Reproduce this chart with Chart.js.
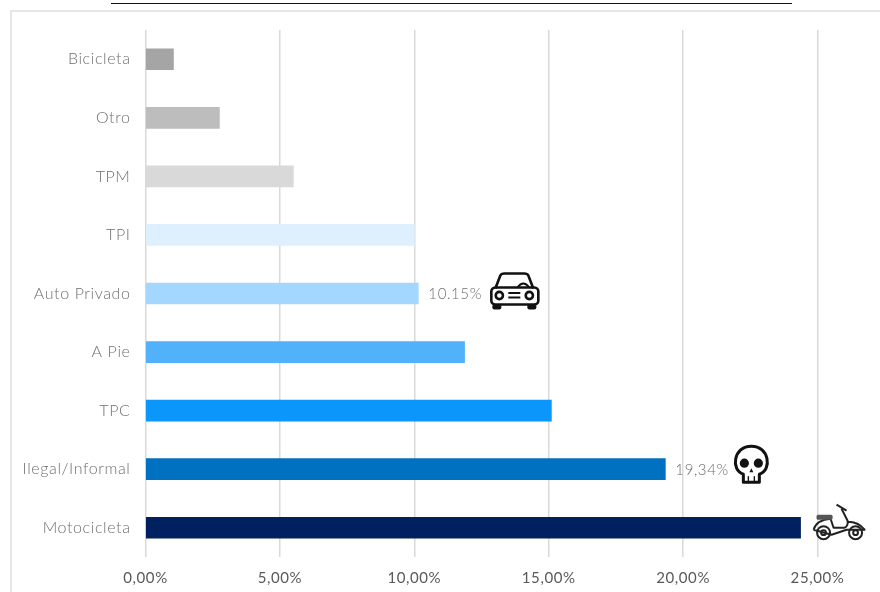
<!DOCTYPE html>
<html>
<head>
<meta charset="utf-8">
<script src="https://cdn.jsdelivr.net/npm/chart.js@4"></script>
<style>
  html, body { margin: 0; padding: 0; background: #fff; }
  #wrap { position: relative; width: 880px; height: 592px; overflow: hidden; }
  #frame { position: absolute; left: 10px; top: 10px; width: 880px; height: 600px;
           border-left: 2px solid #e6e6e6; border-top: 2px solid #e6e6e6; box-sizing: border-box; }
  #rule { position: absolute; left: 111px; top: 3px; width: 681px; height: 1px; background: #111; }
  canvas { position: absolute; left: 0; top: 0; }
</style>
</head>
<body>
<div id="wrap">
  <div id="frame"></div>
  <div id="rule"></div>
  <canvas id="c" width="880" height="592"></canvas>
</div>
<script>
const categories = ['Bicicleta', 'Otro', 'TPM', 'TPI', 'Auto Privado', 'A Pie', 'TPC', 'Ilegal/Informal', 'Motocicleta'];
const shares = [1.04, 2.75, 5.5, 10.0, 10.15, 11.87, 15.1, 19.34, 24.37];
const barColors = ['#a5a5a5', '#bdbdbd', '#d9d9d9', '#deeffd', '#a3d7ff', '#52b1fb', '#0a96fa', '#0070c0', '#002060'];
const valueLabels = { 4: '10.15%', 7: '19,34%' };
const axisTicks = { min: 0, max: 25, step: 5 };
const fontStack = '"Lato", "Open Sans", sans-serif';

function drawCar(ctx, cx, cy) {
  ctx.save();
  ctx.translate(cx, cy);
  ctx.strokeStyle = '#111'; ctx.fillStyle = '#111'; ctx.lineWidth = 2.6; ctx.lineJoin = 'round';
  ctx.beginPath();
  ctx.moveTo(-19, -2); ctx.lineTo(-14, -15); ctx.quadraticCurveTo(-13, -17, -10, -17);
  ctx.lineTo(10, -17); ctx.quadraticCurveTo(13, -17, 14, -15); ctx.lineTo(19, -2);
  ctx.stroke();
  ctx.lineWidth = 1.8;
  ctx.beginPath(); ctx.moveTo(3, -3); ctx.quadraticCurveTo(9, -11, 15, -3); ctx.stroke();
  ctx.lineWidth = 2.6;
  ctx.beginPath(); ctx.roundRect(-23, -3, 47, 17, 4); ctx.stroke();
  ctx.beginPath(); ctx.arc(-15, 5, 3.6, 0, 7); ctx.stroke();
  ctx.beginPath(); ctx.arc(15, 5, 3.6, 0, 7); ctx.stroke();
  ctx.fillRect(-6, 1.5, 12, 2); ctx.fillRect(-6, 6, 12, 2);
  ctx.beginPath(); ctx.roundRect(-22, 14, 9, 5, 2); ctx.fill();
  ctx.beginPath(); ctx.roundRect(13, 14, 9, 5, 2); ctx.fill();
  ctx.restore();
}

function drawSkull(ctx, cx, cy) {
  ctx.save();
  ctx.translate(cx, cy);
  ctx.strokeStyle = '#111'; ctx.fillStyle = '#111'; ctx.lineWidth = 3; ctx.lineJoin = 'round';
  ctx.beginPath();
  ctx.moveTo(-8, 9);
  ctx.bezierCurveTo(-21, 5, -18, -19, 0, -19);
  ctx.bezierCurveTo(18, -19, 21, 5, 8, 9);
  ctx.lineTo(8, 17); ctx.lineTo(-8, 17); ctx.closePath();
  ctx.stroke();
  ctx.beginPath(); ctx.arc(-7, -2, 4.6, 0, 7); ctx.arc(7, -2, 4.6, 0, 7); ctx.fill();
  ctx.beginPath(); ctx.moveTo(0, 3); ctx.lineTo(2, 7); ctx.lineTo(-2, 7); ctx.closePath(); ctx.fill();
  ctx.lineWidth = 1.4;
  [-3, 3].forEach(x => { ctx.beginPath(); ctx.moveTo(x, 11); ctx.lineTo(x, 17); ctx.stroke(); });
  ctx.restore();
}

function drawScooter(ctx, cx, cy) {
  ctx.save();
  ctx.translate(cx, cy);
  ctx.strokeStyle = '#222'; ctx.fillStyle = '#222'; ctx.lineWidth = 2; ctx.lineJoin = 'round';
  [-15, 17].forEach(x => {
    ctx.beginPath(); ctx.arc(x, 8, 6.5, 0, 7); ctx.stroke();
    ctx.beginPath(); ctx.arc(x, 8, 2.4, 0, 7); ctx.stroke();
  });
  ctx.beginPath();
  ctx.moveTo(-25, 5); ctx.quadraticCurveTo(-22, -5, -8, -6); ctx.lineTo(-5, 3);
  ctx.lineTo(6, 3); ctx.quadraticCurveTo(10, 1, 9, -4); ctx.lineTo(3, -16);
  ctx.moveTo(9, -3); ctx.quadraticCurveTo(20, -3, 26, 5); ctx.lineTo(8, 5);
  ctx.lineTo(-7, 10); ctx.lineTo(-25, 5);
  ctx.stroke();
  ctx.fillStyle = '#555';
  ctx.beginPath(); ctx.roundRect(-22, -10, 16, 5, 1.5); ctx.fill();
  ctx.beginPath(); ctx.moveTo(-2, -20); ctx.lineTo(8, -14); ctx.stroke();
  ctx.restore();
}

// Icons and value labels are anchored to the bar ends through the chart's scales.
const barAnnotations = {
  id: 'barAnnotations',
  beforeDraw(chart) {
    chart.ctx.letterSpacing = '0.6px';
  },
  afterDatasetsDraw(chart) {
    const { ctx, scales: { x, y } } = chart;
    ctx.save();
    ctx.fillStyle = '#6f6f6f';
    ctx.font = '300 15px ' + fontStack;
    ctx.textBaseline = 'middle';
    Object.keys(valueLabels).forEach(i => {
      ctx.fillText(valueLabels[i], x.getPixelForValue(shares[i]) + 10, y.getPixelForValue(+i) + 1);
    });
    ctx.restore();
    drawCar(ctx, x.getPixelForValue(shares[4]) + 96, y.getPixelForValue(4) - 3);
    drawSkull(ctx, x.getPixelForValue(shares[7]) + 86, y.getPixelForValue(7) - 4);
    drawScooter(ctx, x.getPixelForValue(shares[8]) + 38, y.getPixelForValue(8) - 3);
  }
};

new Chart(document.getElementById('c'), {
  type: 'bar',
  data: {
    labels: categories,
    datasets: [{ data: shares, backgroundColor: barColors, barThickness: 21, borderWidth: 0 }]
  },
  options: {
    indexAxis: 'y',
    responsive: false,
    animation: false,
    layout: { padding: { left: 0, right: 62.5, top: 30, bottom: 0 } },
    plugins: { legend: { display: false }, tooltip: { enabled: false } },
    scales: {
      x: {
        min: axisTicks.min, max: axisTicks.max,
        afterFit(axis) { axis.height = 35; },
        grid: { color: '#d9d9d9', lineWidth: 1.5, drawTicks: false },
        border: { display: false },
        ticks: {
          stepSize: axisTicks.step, padding: 12, color: '#595959', maxRotation: 0,
          font: { family: fontStack, size: 15 },
          callback: v => v.toFixed(2).replace('.', ',') + '%'
        }
      },
      y: {
        afterFit(axis) { axis.width = 145.5; },
        grid: { display: false, drawTicks: false },
        border: { display: false },
        ticks: { padding: 15, color: '#6f6f6f', font: { family: fontStack, size: 16, weight: 300 } }
      }
    }
  },
  plugins: [barAnnotations]
});
</script>
</body>
</html>
